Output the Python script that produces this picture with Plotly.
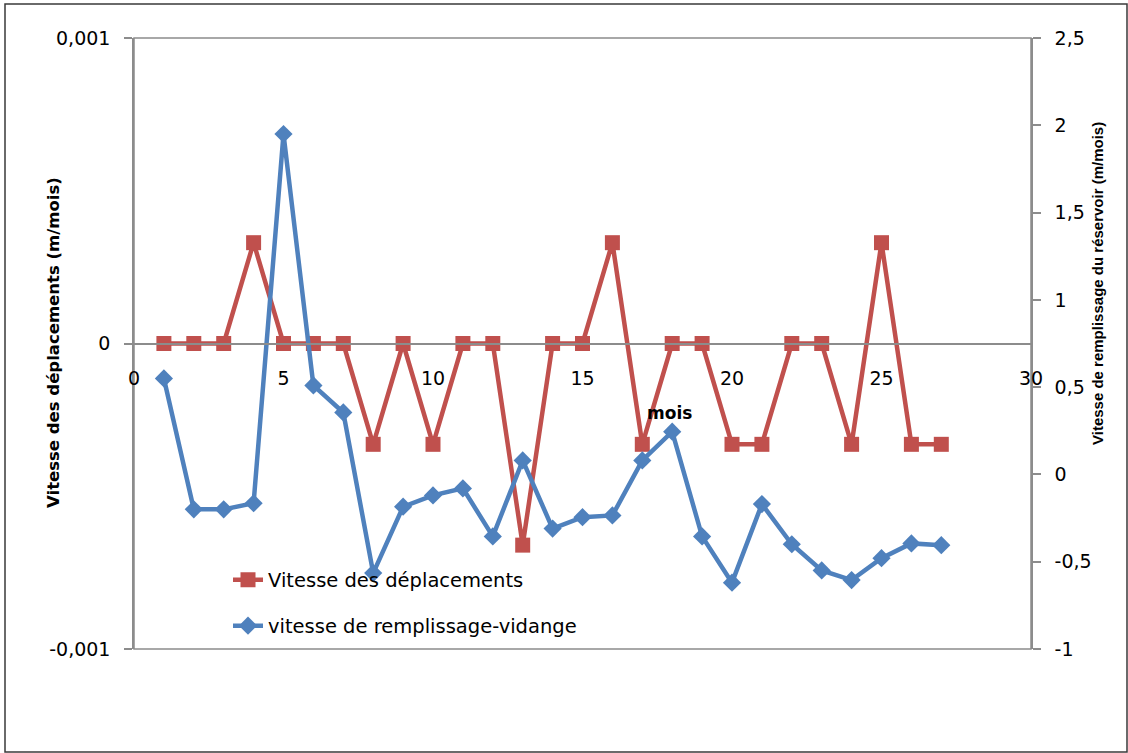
import plotly.graph_objects as go

# Monthly series (month index 1..27)
mois = list(range(1, 28))
vitesse_deplacements = [0, 0, 0, 0.00033, 0, 0, 0, -0.00033, 0, -0.00033,
                        0, 0, -0.00066, 0, 0, 0.00033, -0.00033, 0, 0, -0.00033,
                        -0.00033, 0, 0, -0.00033, 0.00033, -0.00033, -0.00033]
vitesse_remplissage = [0.55, -0.20, -0.20, -0.165, 1.95, 0.51, 0.355, -0.565, -0.185, -0.12,
                       -0.08, -0.355, 0.08, -0.31, -0.245, -0.235, 0.08, 0.245, -0.355, -0.62,
                       -0.17, -0.40, -0.55, -0.605, -0.48, -0.395, -0.405]

# Axis ticks (French decimal comma)
x_ticks = [0, 5, 10, 15, 20, 25, 30]
y1_ticks = [-0.001, 0, 0.001]
y1_labels = ["-0,001", "0", "0,001"]
y2_ticks = [-1, -0.5, 0, 0.5, 1, 1.5, 2, 2.5]
y2_labels = ["-1", "-0,5", "0", "0,5", "1", "1,5", "2", "2,5"]

RED = "#C0504D"
BLUE = "#4F81BD"
AXIS = "#8C8C8C"
FONT = "DejaVu Sans"

W, H = 1128, 753
L, R, T, B = 134, 97, 38, 104
pw, ph = W - L - R, H - T - B


def px_x(x):
    return (x - L) / pw


def px_y(y):
    return (H - B - y) / ph


fig = go.Figure()

fig.add_trace(go.Scatter(
    x=mois, y=vitesse_deplacements, name="Vitesse des déplacements",
    mode="lines+markers", yaxis="y",
    line=dict(color=RED, width=4.5),
    marker=dict(symbol="square", size=15, color=RED),
    legend="legend", showlegend=True,
))
fig.add_trace(go.Scatter(
    x=mois, y=vitesse_remplissage, name="vitesse de remplissage-vidange",
    mode="lines+markers", yaxis="y2",
    line=dict(color=BLUE, width=4.5),
    marker=dict(symbol="diamond", size=14, color=BLUE),
    legend="legend2", showlegend=True,
))

fig.update_layout(
    width=W, height=H,
    margin=dict(l=L, r=R, t=T, b=B),
    paper_bgcolor="white", plot_bgcolor="white",
    font=dict(family=FONT, size=18, color="black"),
    showlegend=True,
    xaxis=dict(
        range=[0, 30], tickvals=x_ticks, anchor="free", position=0.5,
        showline=True, linecolor=AXIS, linewidth=1.5,
        showgrid=False, zeroline=False, ticks="",
        ticklabelstandoff=18,
        tickfont=dict(family=FONT, size=19),
    ),
    yaxis=dict(
        range=[-0.001, 0.001], tickvals=y1_ticks, ticktext=y1_labels,
        showline=True, linecolor=AXIS, linewidth=1.5,
        ticks="outside", ticklen=8, tickcolor=AXIS, tickwidth=1.5,
        showgrid=False, zeroline=False,
        ticklabelstandoff=10,
        tickfont=dict(family=FONT, size=19),
    ),
    yaxis2=dict(
        range=[-1, 2.5], tickvals=y2_ticks, ticktext=y2_labels,
        overlaying="y", side="right", anchor="x",
        showline=True, linecolor=AXIS, linewidth=1.5,
        ticks="outside", ticklen=8, tickcolor=AXIS, tickwidth=1.5,
        showgrid=False, zeroline=False,
        ticklabelstandoff=10,
        tickfont=dict(family=FONT, size=19),
    ),
    legend=dict(
        x=px_x(228), y=px_y(580), xanchor="left", yanchor="middle",
        bgcolor="rgba(0,0,0,0)", font=dict(family=FONT, size=19.5),
    ),
    legend2=dict(
        x=px_x(228), y=px_y(626), xanchor="left", yanchor="middle",
        bgcolor="rgba(0,0,0,0)", font=dict(family=FONT, size=19.5),
    ),
    shapes=[
        # plot area frame
        dict(type="rect", xref="paper", yref="paper", x0=0, x1=1, y0=0, y1=1,
             line=dict(color=AXIS, width=1.5), layer="below"),
        # chart border
        dict(type="rect", xref="paper", yref="paper",
             x0=px_x(5), x1=px_x(1127), y0=px_y(752), y1=px_y(4),
             line=dict(color="#3A3A3A", width=1.5), layer="below"),
    ],
    annotations=[
        dict(text="<b>Vitesse des déplacements (m/mois)</b>", textangle=-90,
             xref="paper", yref="paper", x=px_x(53), y=px_y(343),
             xanchor="center", yanchor="middle",
             showarrow=False, font=dict(family=FONT, size=16.5, color="black")),
        dict(text="<b>Vitesse de remplissage du réservoir (m/mois)</b>", textangle=-90,
             xref="paper", yref="paper", x=px_x(1097), y=px_y(284),
             xanchor="center", yanchor="middle",
             showarrow=False,
             font=dict(family="Liberation Sans", size=15, color="black")),
        dict(text="<b>mois</b>", xref="paper", yref="paper",
             x=px_x(669), y=px_y(413), xanchor="center", yanchor="middle",
             showarrow=False,
             font=dict(family=FONT, size=17, color="black")),
    ],
)

fig.write_html("out.html")
